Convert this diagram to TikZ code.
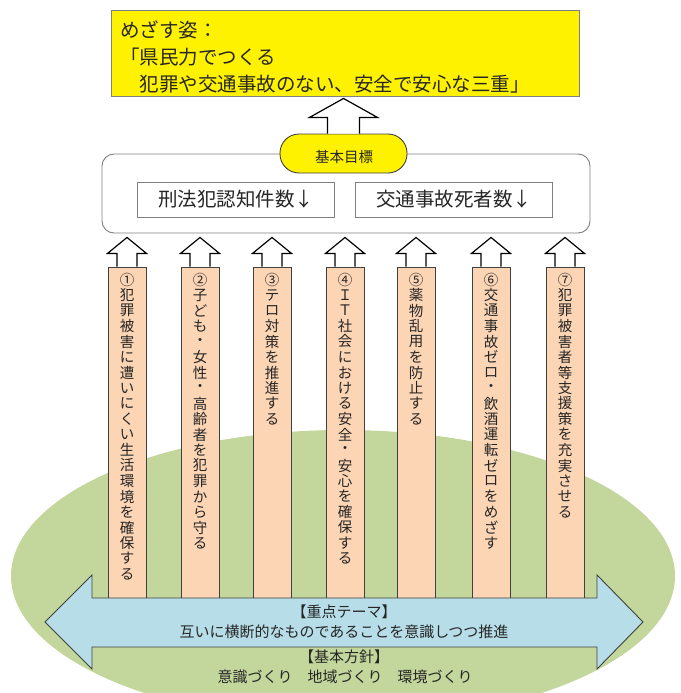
\documentclass[tikz,border=0pt]{standalone}
\usepackage{fontspec}
\setmainfont{Noto Sans CJK JP}
\usetikzlibrary{calc}
\definecolor{peach}{HTML}{FCD5B5}
\definecolor{olivegreen}{HTML}{C3D69B}
\definecolor{skyblue}{HTML}{B7DEE8}
\definecolor{edgegray}{HTML}{404040}
\definecolor{framegray}{HTML}{7F7F7F}
\definecolor{inkcol}{HTML}{262626}
\newdimen\vtstep \vtstep=15.5pt
\def\vt#1{\vbox{\offinterlineskip\vtloop#1\relax}}
\def\vtloop#1{\ifx\relax#1\else\vbox to\vtstep{\vss\hbox to 18pt{\hss#1\hss}\vss}\expandafter\vtloop\fi}
\newcommand\uparr[5]{%
  \filldraw[uparrowst] ($(#1)+(-#3,0)$) -- ($(#2)+(-#3,#5)$) -- ($(#2)+(-#4,#5)$) -- (#2)
    -- ($(#2)+(#4,#5)$) -- ($(#2)+(#3,#5)$) -- ($(#1)+(#3,0)$);}
\begin{document}
\begin{tikzpicture}[x=1pt,y=-1pt,
  uparrowst/.style={fill=white,draw=black,line width=1.2pt,line join=miter},
  colbox/.style={draw=edgegray,fill=peach,line width=0.9pt,minimum width=38pt,minimum height=331pt,inner sep=0pt},
  coltext/.style={anchor=north,inner sep=0pt,text=inkcol,font=\fontsize{14.5}{15.5}\selectfont},
  goaltext/.style={anchor=base west,inner sep=0pt,text=inkcol,font=\fontsize{19.5}{24}\selectfont},
  indbox/.style={draw=framegray,fill=white,line width=0.9pt,minimum width=197pt,minimum height=35pt,inner sep=0pt,text=inkcol,font=\fontsize{19.5}{24}\selectfont},
  midtext/.style={anchor=base,inner sep=0pt,text=inkcol,font=\fontsize{15}{18}\selectfont}]
\useasboundingbox (0,0) rectangle (680,693);
\clip (0,0) rectangle (680,693);
% green ellipse
\fill[olivegreen] (343,576) ellipse [x radius=332, y radius=146];
% goal box
\node[draw=framegray,fill=yellow,line width=0.9pt,minimum width=468pt,minimum height=86pt,inner sep=0pt] (goal) at (345,53) {};
\node[goaltext] (g1) at (120,37.5) {めざす姿：};
\node[goaltext] (g2) at (120,64.5) {「県民力でつくる};
\node[goaltext] (g3) at (120,92) {　犯罪や交通事故のない、安全で安心な三重」};
% frame of basic targets
\node[draw=framegray,fill=white,line width=0.9pt,rounded corners=12pt,minimum width=488pt,minimum height=79pt,inner sep=0pt] (frame) at (346,193.5) {};
\node[indbox] (crime) at (236,199.5) {刑法犯認知件数↓};
\node[indbox] (traffic) at (454,199.5) {交通事故死者数↓};
% pill
\node[draw=edgegray,fill=yellow,line width=0.9pt,rounded corners=19pt,minimum width=127pt,minimum height=39pt,inner sep=0pt] (pill) at (343.5,153.5) {};
\node[inner sep=0pt,text=inkcol,font=\fontsize{14.5}{16}\selectfont] (pilltext) at (344,156.5) {基本目標};
\coordinate (tip0) at ($(pill.north|-goal.south)+(0,2)$);
\uparr{pill.north}{tip0}{16}{34}{19}
% columns
\foreach \i/\cx in {1/127,2/200,3/272,4/345,5/416,6/491,7/565}{
  \node[colbox] (c\i) at (\cx,432.5) {};
  \coordinate (tip\i) at ($(c\i.north|-frame.south)+(0,4)$);
  \uparr{c\i.north}{tip\i}{10}{19.5}{16}
}
\node[coltext] (c1t) at ($(c1.north)+(0,5)$) {\vt{①犯罪被害に遭いにくい生活環境を確保する}};
\node[coltext] (c2t) at ($(c2.north)+(0,5)$) {\vt{②子ども・女性・高齢者を犯罪から守る}};
\node[coltext] (c3t) at ($(c3.north)+(0,5)$) {\vt{③テロ対策を推進する}};
\node[coltext] (c4t) at ($(c4.north)+(0,5)$) {\vt{④ＩＴ社会における安全・安心を確保する}};
\node[coltext] (c5t) at ($(c5.north)+(0,5)$) {\vt{⑤薬物乱用を防止する}};
\node[coltext] (c6t) at ($(c6.north)+(0,5)$) {\vt{⑥交通事故ゼロ・飲酒運転ゼロをめざす}};
\node[coltext] (c7t) at ($(c7.north)+(0,5)$) {\vt{⑦犯罪被害者等支援策を充実させる}};
% double arrow
\filldraw[fill=skyblue,draw=edgegray,line width=0.9pt,line join=miter]
  (45,622) -- (92,575) -- (92,598) -- (597,598) -- (597,575) -- (643,622)
  -- (597,669) -- (597,647) -- (92,647) -- (92,669) -- cycle;
\node[midtext] (theme1) at (344,617.5) {【重点テーマ】};
\node[midtext] (theme2) at (344,637.5) {互いに横断的なものであることを意識しつつ推進};
\node[midtext] (policy1) at (344,662.5) {【基本方針】};
\node[midtext] (policy2) at (345,682.5) {意識づくり　地域づくり　環境づくり};
\end{tikzpicture}
\end{document}
